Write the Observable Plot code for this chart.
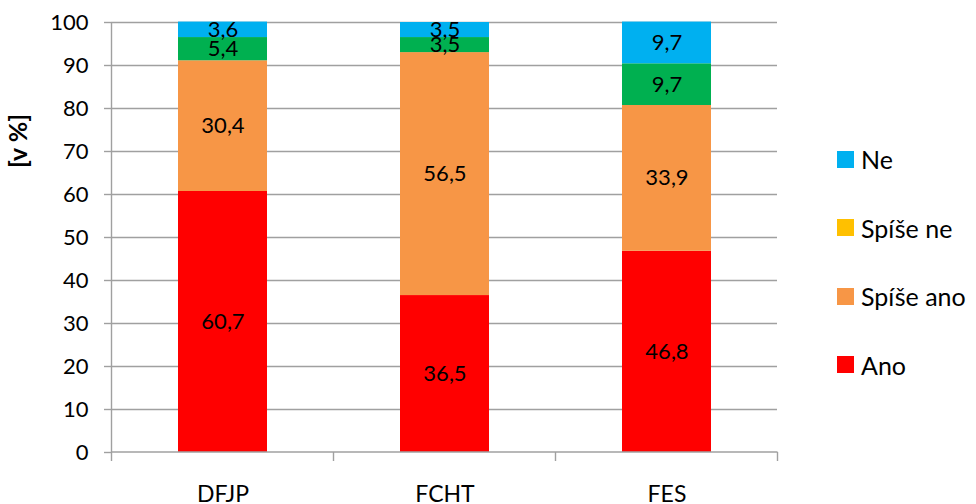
<!DOCTYPE html>
<html>
<head>
<meta charset="utf-8">
<script src="https://cdn.jsdelivr.net/npm/d3@7"></script>
<script src="https://cdn.jsdelivr.net/npm/@observablehq/plot@0.6"></script>
<style>
  html, body { margin: 0; padding: 0; background: #fff; }
  #wrap { position: relative; width: 976px; height: 504px; overflow: hidden; font-family: Lato, "Open Sans", sans-serif; }
  #ytitle { position: absolute; left: 17px; top: 141px; transform: translate(-50%, -50%) rotate(-90deg); font-size: 25px; font-weight: bold; white-space: nowrap; color: #000; }
  #legend { position: absolute; left: 837px; top: 125px; font-size: 25px; color: #000; }
  .item { height: 68.5px; display: flex; align-items: center; }
  .sw { width: 17px; height: 17px; margin-right: 7px; flex: none; }
</style>
</head>
<body>
<div id="wrap"></div>
<script>
const categories = ["DFJP", "FCHT", "FES"];
const series = ["Ano", "Spíše ano", "Spíše ne", "Ne"];
const ano = [60.7, 36.5, 46.8];
const spiseAno = [30.4, 56.5, 33.9];
const spiseNe = [5.4, 3.5, 9.7];
const ne = [3.6, 3.5, 9.7];
const barColors = ["#FF0000", "#F79646", "#00B050", "#00B0F0"];
const legendItems = ["Ne", "Spíše ne", "Spíše ano", "Ano"];
const legendColors = ["#00B0F0", "#FFC000", "#F79646", "#FF0000"];
const yTicks = [0, 10, 20, 30, 40, 50, 60, 70, 80, 90, 100];
const yTitle = "[v %]";

const valuesBySeries = [ano, spiseAno, spiseNe, ne];
const rows = [];
series.forEach((s, i) => categories.forEach((c, j) => rows.push({cat: c, series: s, value: valuesBySeries[i][j]})));
const fmt = v => v.toFixed(1).replace(".", ",");
const axisGray = "#A0A0A0";

function axisFrame(index, scales, values, dimensions) {
  const x = scales.x, y = scales.y;
  const bw = x.bandwidth ? x.bandwidth() : 0;
  const centers = categories.map(c => x(c) + bw / 2);
  const step = centers.length > 1 ? centers[1] - centers[0] : bw;
  const bounds = [centers[0] - step / 2, ...centers.map(c => c + step / 2)];
  const g = d3.create("svg:g").attr("stroke", axisGray).attr("stroke-width", 1.4).attr("fill", "none");
  const y0 = y(0), y100 = y(100);
  const xl = bounds[0];
  g.append("line").attr("x1", xl).attr("x2", xl).attr("y1", y100).attr("y2", y0);
  g.append("line").attr("x1", xl).attr("x2", bounds[bounds.length - 1]).attr("y1", y0).attr("y2", y0);
  bounds.forEach(b => g.append("line").attr("x1", b).attr("x2", b).attr("y1", y0).attr("y2", y0 + 9));
  return g.node();
}

const chart = Plot.plot({
  width: 976,
  height: 504,
  marginLeft: 111,
  marginRight: 199,
  marginTop: 22,
  marginBottom: 52,
  style: {fontFamily: "Lato, 'Open Sans', sans-serif", fontSize: "22px", color: "#000", background: "#fff", overflow: "visible"},
  x: {domain: categories, paddingInner: 0.6, paddingOuter: 0.3, label: null, axis: null},
  y: {domain: [0, 100], label: null, axis: null},
  color: {domain: series, range: barColors},
  marks: [
    Plot.gridY(yTicks.filter(t => t > 0), {stroke: axisGray, strokeOpacity: 1, strokeWidth: 1.4}),
    Plot.barY(rows, {x: "cat", y: "value", fill: "series"}),
    Plot.text(rows, Plot.stackY({x: "cat", y: "value", text: d => fmt(d.value), fill: "#000", fontSize: 22})),
    axisFrame,
    Plot.axisY(yTicks, {tickSize: 7, tickPadding: 16, stroke: axisGray, strokeWidth: 1.4, fill: "#000", fontSize: 22, label: null, tickFormat: d => String(d)}),
    Plot.axisX({tickSize: 0, tickPadding: 33, fill: "#000", fontSize: 23, label: null})
  ]
});

const wrap = document.getElementById("wrap");
wrap.appendChild(chart);

const t = document.createElement("div");
t.id = "ytitle";
t.textContent = yTitle;
wrap.appendChild(t);

const leg = document.createElement("div");
leg.id = "legend";
legendItems.forEach((name, i) => {
  const it = document.createElement("div");
  it.className = "item";
  const sw = document.createElement("div");
  sw.className = "sw";
  sw.style.background = legendColors[i];
  const lab = document.createElement("span");
  lab.textContent = name;
  it.appendChild(sw);
  it.appendChild(lab);
  leg.appendChild(it);
});
wrap.appendChild(leg);
</script>
</body>
</html>
